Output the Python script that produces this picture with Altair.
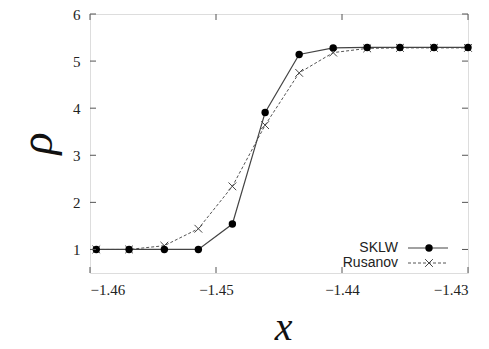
import altair as alt
import pandas as pd

x_vals = [-1.4595, -1.4569, -1.4541, -1.4514, -1.4487, -1.4461, -1.4434, -1.4407, -1.4380, -1.4354, -1.4327, -1.4300]
sklw = [1.0, 1.0, 1.0, 1.0, 1.54, 3.91, 5.14, 5.28, 5.29, 5.29, 5.29, 5.29]
rusanov = [1.0, 1.0, 1.08, 1.44, 2.34, 3.64, 4.75, 5.18, 5.27, 5.28, 5.28, 5.28]
x_ticks = [-1.46, -1.45, -1.44, -1.43]
y_ticks = [1, 2, 3, 4, 5, 6]
series_names = ["SKLW", "Rusanov"]

W, H = 378, 259
df_s = pd.DataFrame({"x": x_vals, "y": sklw})
df_r = pd.DataFrame({"x": x_vals, "y": rusanov})
df_xt = pd.DataFrame({"t": x_ticks})
df_yt = pd.DataFrame({"t": y_ticks})

xs = alt.Scale(domain=[-1.46, -1.43], nice=False, zero=False)
ys = alt.Scale(domain=[0.5, 6], nice=False, zero=False)
GRAY = "#555555"
XSHAPE = "M-1,-1L1,1M-1,1L1,-1"

xax = alt.Axis(values=x_ticks, format=".2f", ticks=False, domain=False, grid=False,
               labelFont="Liberation Serif", labelFontSize=15, labelColor="#222222",
               labelPadding=9, title="x", titleFont="Liberation Serif", titleFontStyle="italic",
               titleFontWeight="normal", titleFontSize=40, titleColor="#111111",
               titleX=193, titleY=54, titleBaseline="middle", titleAlign="center")
yax = alt.Axis(values=y_ticks, format="d", ticks=False, domain=False, grid=False,
               labelFont="Liberation Serif", labelFontSize=15, labelColor="#222222",
               labelPadding=10, title="ρ", titleFont="Liberation Serif", titleFontStyle="italic",
               titleFontWeight="normal", titleFontSize=46, titleColor="#111111",
               titleAngle=-90, titleX=-53, titleY=129, titleBaseline="middle", titleAlign="center")

line_s = alt.Chart(df_s).mark_line(color="#444444", strokeWidth=1.2).encode(
    x=alt.X("x:Q", scale=xs, axis=xax), y=alt.Y("y:Q", scale=ys, axis=yax))
pts_s = alt.Chart(df_s).mark_point(filled=True, shape="circle", size=55, color="#000000", opacity=1).encode(
    x=alt.X("x:Q", scale=xs), y=alt.Y("y:Q", scale=ys))
line_r = alt.Chart(df_r).mark_line(color="#555555", strokeWidth=1, strokeDash=[3, 2]).encode(
    x=alt.X("x:Q", scale=xs), y=alt.Y("y:Q", scale=ys))
pts_r = alt.Chart(df_r).mark_point(shape=XSHAPE, filled=False, size=60, color="#444444", strokeWidth=1, opacity=1).encode(
    x=alt.X("x:Q", scale=xs), y=alt.Y("y:Q", scale=ys))

tk = 6
tick_bot = alt.Chart(df_xt).mark_rule(color=GRAY, strokeWidth=1).encode(
    x=alt.X("t:Q", scale=xs), y=alt.value(H), y2=alt.value(H - tk))
tick_top = alt.Chart(df_xt).mark_rule(color=GRAY, strokeWidth=1).encode(
    x=alt.X("t:Q", scale=xs), y=alt.value(0), y2=alt.value(tk))
tick_l = alt.Chart(df_yt).mark_rule(color=GRAY, strokeWidth=1).encode(
    y=alt.Y("t:Q", scale=ys), x=alt.value(0), x2=alt.value(tk))
tick_r = alt.Chart(df_yt).mark_rule(color=GRAY, strokeWidth=1).encode(
    y=alt.Y("t:Q", scale=ys), x=alt.value(W), x2=alt.value(W - tk))

# legend
lx_text = 308
ly1, ly2 = 234, 249
leg_t1 = alt.Chart(pd.DataFrame({"n": [series_names[0]]})).mark_text(
    align="right", baseline="middle", font="Liberation Sans", fontSize=14, color="#222222").encode(
    text="n:N", x=alt.value(lx_text), y=alt.value(ly1))
leg_t2 = alt.Chart(pd.DataFrame({"n": [series_names[1]]})).mark_text(
    align="right", baseline="middle", font="Liberation Sans", fontSize=14, color="#222222").encode(
    text="n:N", x=alt.value(lx_text), y=alt.value(ly2))
leg_l1 = alt.Chart(pd.DataFrame({"n": [0]})).mark_rule(color="#444444", strokeWidth=1.2).encode(
    x=alt.value(318), x2=alt.value(358), y=alt.value(ly1))
leg_l2 = alt.Chart(pd.DataFrame({"n": [0]})).mark_rule(color="#555555", strokeWidth=1, strokeDash=[3, 2]).encode(
    x=alt.value(318), x2=alt.value(358), y=alt.value(ly2))
leg_p1 = alt.Chart(pd.DataFrame({"n": [0]})).mark_point(filled=True, shape="circle", size=55, color="#000000", opacity=1).encode(
    x=alt.value(339), y=alt.value(ly1))
leg_p2 = alt.Chart(pd.DataFrame({"n": [0]})).mark_point(shape=XSHAPE, filled=False, size=60, color="#444444", strokeWidth=1, opacity=1).encode(
    x=alt.value(339), y=alt.value(ly2))

chart = alt.layer(line_r, line_s, pts_r, pts_s, tick_bot, tick_top, tick_l, tick_r,
                  leg_l1, leg_l2, leg_p1, leg_p2, leg_t1, leg_t2).properties(
    width=W, height=H,
    autosize=alt.AutoSizeParams(type="none"),
    padding={"left": 82, "top": 6, "right": 11, "bottom": 76},
).configure_view(stroke=GRAY, strokeWidth=1.2).configure(background="white")

chart.save("out.html", embed_options={"renderer": "svg", "actions": False})
